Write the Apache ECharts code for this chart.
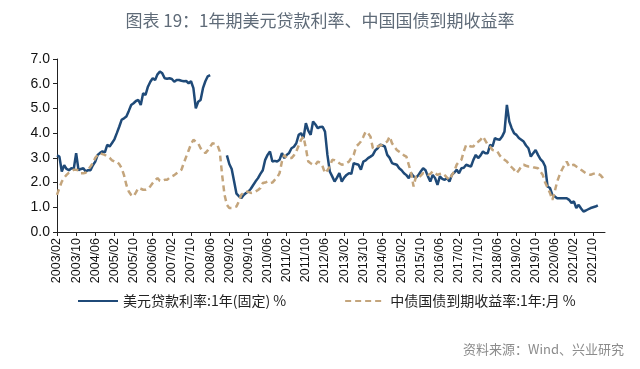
<!DOCTYPE html>
<html><head><meta charset="utf-8">
<script src="https://cdn.jsdelivr.net/npm/echarts@6/dist/echarts.min.js"></script>
<style>html,body{margin:0;padding:0;background:#fff}#c{width:640px;height:369px}</style>
</head><body><div id="c"></div>
<script>
// Monthly categories 2003/02 .. 2022/03
const months = [];
for (let y = 2003, m = 2; !(y === 2022 && m === 4); ) {
  months.push(y + '/' + String(m).padStart(2, '0'));
  m++; if (m > 12) { m = 1; y++; }
}
const yTicks = [0, 1, 2, 3, 4, 5, 6, 7];
const seriesNames = ['美元贷款利率:1年(固定) %', '中债国债到期收益率:1年:月 %'];

const usdLoan = [
  3.10, 3.05, 2.45, 2.70, 2.55, 2.50, 2.58, 2.55, 3.19, 2.50, 2.55, 2.58,
  2.45, 2.50, 2.50, 2.70, 2.85, 3.12, 3.20, 3.26, 3.22, 3.53, 3.46, 3.60,
  3.75, 4.00, 4.26, 4.54, 4.60, 4.67, 4.90, 5.14, 5.21, 5.30, 5.34, 5.14,
  5.61, 5.55, 5.88, 6.08, 6.22, 6.15, 6.38, 6.49, 6.42, 6.22, 6.20, 6.22,
  6.19, 6.08, 6.15, 6.15, 6.12, 6.10, 6.11, 6.02, 6.10, 5.82, 5.00, 5.27,
  5.34, 5.82, 6.10, 6.30, 6.35, null, null, null, null, null, null,
  3.10, 2.75, 2.55, 2.05, 1.55, 1.45, 1.37, 1.50, 1.58, 1.64, 1.75, 1.90, 2.05,
  2.18, 2.35, 2.50, 2.92, 3.12, 3.26, 2.85, 2.88, 2.85, 2.92, 3.19, 2.99,
  3.12, 3.20, 3.39, 3.45, 3.59, 3.93, 4.00, 3.80, 4.40, 4.10, 3.93, 4.47,
  4.35, 4.20, 4.25, 4.26, 4.06, 3.12, 2.45, 2.25, 2.04, 2.20, 2.38, 2.04,
  2.20, 2.31, 2.38, 2.35, 2.79, 2.75, 2.72, 2.52, 2.85, 2.90, 2.99, 3.05,
  3.12, 3.30, 3.39, 3.53, 3.50, 3.46, 3.12, 3.00, 2.79, 2.75, 2.72, 2.58,
  2.50, 2.38, 2.30, 2.18, 2.38, 2.25, 2.20, 2.30, 2.45, 2.58, 2.50, 2.25,
  2.04, 2.31, 2.18, 1.91, 2.25, 2.15, 2.11, 2.18, 2.04, 2.31, 2.40, 2.52,
  2.38, 2.58, 2.60, 2.72, 2.68, 2.65, 2.92, 3.12, 2.99, 3.10, 3.26, 3.19,
  3.19, 3.53, 3.46, 3.80, 3.75, 3.73, 3.86, 4.06, 5.14, 4.47, 4.20, 4.00,
  3.93, 3.80, 3.73, 3.66, 3.50, 3.39, 3.05, 3.19, 3.32, 3.12, 2.95, 2.85,
  2.65, 1.84, 1.78, 1.50, 1.44, 1.37, 1.37, 1.37, 1.37, 1.37, 1.30, 1.17,
  1.24, 0.97, 1.10, 0.95, 0.83, 0.87, 0.92, 0.97, 1.00, 1.03, 1.08,
  null, null, null
];

const cnBond = [
  1.50, 1.78, 2.04, 2.20, 2.31, 2.40, 2.45, 2.52, 2.52, 2.50, 2.38, 2.38,
  2.40, 2.52, 2.65, 2.79, 3.00, 3.12, 3.19, 3.15, 3.12, 3.05, 3.00, 2.90,
  2.85, 2.85, 2.75, 2.58, 2.30, 1.90, 1.64, 1.50, 1.44, 1.60, 1.78, 1.75,
  1.71, 1.71, 1.75, 1.85, 1.98, 2.10, 2.18, 2.07, 2.07, 2.11, 2.11, 2.20,
  2.25, 2.30, 2.38, 2.45, 2.52, 2.79, 3.05, 3.30, 3.55, 3.73, 3.65, 3.59,
  3.39, 3.30, 3.19, 3.30, 3.45, 3.59, 3.56, 3.53, 3.26, 2.31, 1.51, 1.10,
  0.97, 0.97, 1.00, 1.03, 1.24, 1.51, 1.58, 1.64, 1.62, 1.58, 1.60, 1.64,
  1.70, 1.78, 1.98, 2.00, 2.04, 1.98, 2.00, 2.11, 2.20, 2.38, 2.85, 3.12,
  2.99, 2.99, 2.99, 3.10, 3.26, 3.50, 3.73, 3.86, 3.39, 2.85, 2.78, 2.72,
  2.72, 2.85, 2.80, 2.65, 2.38, 2.50, 2.65, 2.92, 2.90, 2.85, 2.78, 2.72,
  2.75, 2.79, 2.85, 3.00, 3.12, 3.46, 3.55, 3.66, 3.85, 4.06, 4.00, 3.86,
  3.39, 3.42, 3.46, 3.50, 3.53, 3.60, 3.66, 3.86, 3.59, 3.45, 3.32, 3.25,
  3.19, 3.10, 3.05, 2.72, 2.38, 1.84, 2.25, 2.18, 2.28, 2.38, 2.35, 2.31,
  2.35, 2.45, 2.38, 2.31, 2.35, 2.38, 2.30, 2.20, 2.11, 2.30, 2.45, 2.72,
  2.85, 2.92, 3.26, 3.53, 3.50, 3.46, 3.46, 3.59, 3.65, 3.73, 3.86, 3.70,
  3.53, 3.45, 3.32, 3.30, 3.26, 3.10, 2.99, 2.92, 2.85, 2.72, 2.62, 2.52,
  2.38, 2.50, 2.65, 2.72, 2.68, 2.65, 2.65, 2.62, 2.60, 2.58, 2.45, 2.31,
  2.00, 1.80, 1.58, 1.30, 1.64, 2.04, 2.30, 2.52, 2.70, 2.85, 2.65, 2.70,
  2.72, 2.65, 2.60, 2.52, 2.45, 2.38, 2.35, 2.31, 2.35, 2.38, 2.35, 2.31, 2.20, 2.04
];

const chart = echarts.init(document.getElementById('c'), null, {renderer: 'canvas'});
const blue = '#1f4a78', gold = '#c4a57c';
chart.setOption({
  animation: false,
  backgroundColor: '#fff',
  title: {
    text: '图表 19：1年期美元贷款利率、中国国债到期收益率',
    left: 'center', top: 7,
    textStyle: {fontSize: 17, fontWeight: 'normal', color: '#5f6b78', fontFamily: 'Noto Sans CJK SC'}
  },
  grid: {left: 57, right: 35, top: 59, bottom: 137, containLabel: false},
  legend: {
    left: 72, top: 289, itemWidth: 40, itemHeight: 12, itemGap: 58,
    itemStyle: {opacity: 0},
    textStyle: {fontSize: 14, color: '#222', fontFamily: 'Noto Sans CJK SC'},
    data: seriesNames
  },
  xAxis: {
    type: 'category', data: months, boundaryGap: false,
    axisLine: {lineStyle: {color: '#222', width: 1}},
    axisTick: {show: true, interval: 7, length: 4, lineStyle: {color: '#222'}},
    axisLabel: {interval: 7, rotate: 90, fontSize: 12.5, color: '#111', margin: 6, fontFamily: 'Liberation Sans'},
    splitLine: {show: false}
  },
  yAxis: {
    type: 'value', min: yTicks[0], max: yTicks[yTicks.length - 1], interval: 1,
    axisLine: {show: true, lineStyle: {color: '#222', width: 1}},
    axisTick: {show: true, length: 4, lineStyle: {color: '#222'}},
    axisLabel: {fontSize: 14, color: '#111', margin: 7, formatter: v => v.toFixed(1), fontFamily: 'Liberation Sans'},
    splitLine: {show: false}
  },
  series: [
    {name: seriesNames[0], type: 'line', data: usdLoan, symbol: 'none', connectNulls: false,
     lineStyle: {color: blue, width: 2.5}, itemStyle: {color: blue}},
    {name: seriesNames[1], type: 'line', data: cnBond, symbol: 'none',
     lineStyle: {color: gold, width: 2.5, type: [6, 4]}, itemStyle: {color: gold}}
  ],
  graphic: [{
    type: 'text', right: 16, top: 343,
    style: {text: '资料来源：Wind、兴业研究', fontSize: 13, fill: '#8c8c8c', fontFamily: 'Noto Sans CJK SC'}
  }]
});
</script></body></html>
